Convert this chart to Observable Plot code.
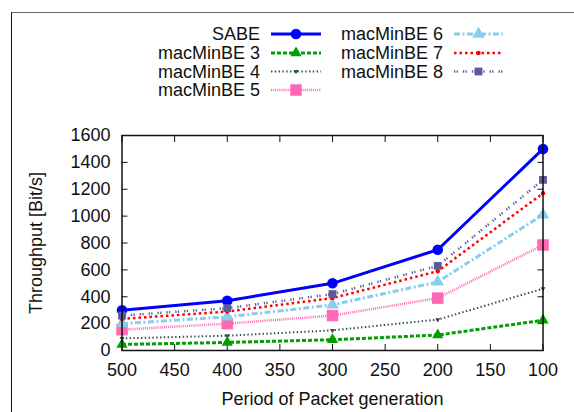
<!DOCTYPE html>
<html><head><meta charset="utf-8">
<script src="https://cdn.jsdelivr.net/npm/d3@7"></script>
<script src="https://cdn.jsdelivr.net/npm/@observablehq/plot@0.6"></script>
<style>
html,body{margin:0;padding:0;background:#fff;}
#wrap{position:relative;width:574px;height:412px;overflow:hidden;font-family:"Liberation Sans",Arial,Helvetica,sans-serif;background:#fff;}
#border{position:absolute;left:11px;top:12px;width:620px;height:520px;border-top:1.5px solid #666;border-left:1.5px solid #111;}
#wrap svg{position:absolute;left:0;top:0;}
</style></head><body><div id="wrap"><div id="border"></div></div>
<script>
// ---- data ----
const periods = [500, 400, 300, 200, 100];
const seriesNames = ["SABE", "macMinBE 3", "macMinBE 4", "macMinBE 5", "macMinBE 6", "macMinBE 7", "macMinBE 8"];
const sabe      = [300, 370, 500, 750, 1500];
const macMinBE3 = [45, 60, 80, 115, 225];
const macMinBE4 = [90, 110, 150, 230, 460];
const macMinBE5 = [155, 200, 260, 390, 785];
const macMinBE6 = [200, 250, 340, 510, 1010];
const macMinBE7 = [235, 290, 390, 590, 1170];
const macMinBE8 = [260, 315, 420, 630, 1270];
const xTicks = [500, 450, 400, 350, 300, 250, 200, 150, 100];
const yTicks = [0, 200, 400, 600, 800, 1000, 1200, 1400, 1600];
const xLabel = "Period of Packet generation";
const yLabel = "Throughput [Bit/s]";

const seriesValues = [sabe, macMinBE3, macMinBE4, macMinBE5, macMinBE6, macMinBE7, macMinBE8];

// ---- styles ----
const styles = [
  {color: "#0000ff", dash: null,            width: 3,   symbol: "circle",   r: 5.3, rotate: 0},
  {color: "#00a000", dash: "4 2",           width: 3,   symbol: "triangle", r: 4.2, rotate: 0},
  {color: "#2f4f4f", dash: "1.4 2.4",       width: 2,   symbol: "triangle", r: 1.8, rotate: 180},
  {color: "#ff69b4", dash: "1 1.1",         width: 2.5, symbol: "square",   r: 6.5, rotate: 0},
  {color: "#87ceeb", dash: "6 2.5 2 2.5",   width: 3,   symbol: "triangle", r: 4.7, rotate: 0},
  {color: "#ff0000", dash: "2.5 3",         width: 2.5, symbol: "circle",   r: 2.2, rotate: 0},
  {color: "#5a5a9c", dash: "1.3 1.3 1.3 5", width: 2.5, symbol: "square",   r: 4.4, rotate: 0}
];

const rows = seriesNames.flatMap((name, i) =>
  periods.map((p, j) => ({series: name, period: p, value: seriesValues[i][j]})));

const FONT = "'Liberation Sans', Arial, Helvetica, sans-serif";

const marks = [];
seriesNames.forEach((name, i) => {
  const s = styles[i];
  const data = rows.filter(d => d.series === name);
  const lineOpts = {x: "period", y: "value", stroke: s.color, strokeWidth: s.width,
    strokeLinejoin: "round", strokeLinecap: "butt"};
  if (s.dash) lineOpts.strokeDasharray = s.dash;
  marks.push(Plot.line(data, lineOpts));
  marks.push(Plot.dot(data, {x: "period", y: "value", symbol: s.symbol, r: s.r, fill: s.color,
    stroke: "none", rotate: s.rotate}));
});

const chart = Plot.plot({
  width: 574, height: 412,
  marginLeft: 121.5, marginRight: 31.5, marginTop: 135, marginBottom: 62,
  style: {fontFamily: FONT, fontSize: "18px", color: "#111", background: "transparent"},
  x: {domain: [500, 100]},
  y: {domain: [0, 1600]},
  marks: [
    Plot.axisX({anchor: "bottom", ticks: xTicks, tickSize: -6, tickPadding: 19, fontSize: 18,
      tickFormat: d3.format("d"),
      label: xLabel, labelAnchor: "center", labelArrow: "none", labelOffset: 54}),
    Plot.axisX({anchor: "top", ticks: xTicks, tickSize: -6, tickFormat: () => "", label: null}),
    Plot.axisY({anchor: "left", ticks: yTicks, tickSize: -6, tickPadding: 17.5, fontSize: 18,
      tickFormat: d3.format("d"),
      label: yLabel, labelAnchor: "center", labelArrow: "none", labelOffset: 93}),
    Plot.axisY({anchor: "right", ticks: yTicks, tickSize: -6, tickFormat: () => "", label: null}),
    ...marks,
    Plot.frame({stroke: "#111", strokeWidth: 1.5})
  ]
});
document.getElementById("wrap").appendChild(chart);

// ---- legend (overlay, built from the same series/style arrays) ----
const legendCols = [
  {textRight: 260, x0: 271, x1: 321},
  {textRight: 443, x0: 454, x1: 503}
];
const rowY = [34, 53, 71.5, 90];
const lg = d3.select("#wrap").append("svg").attr("width", 574).attr("height", 120)
  .style("font-family", FONT).style("font-size", "18px");
seriesNames.forEach((name, i) => {
  const col = legendCols[i < 4 ? 0 : 1];
  const y = rowY[i < 4 ? i : i - 4];
  const s = styles[i];
  lg.append("text").attr("x", col.textRight).attr("y", y).attr("dy", "0.35em")
    .attr("text-anchor", "end").attr("fill", "#111").text(name);
  lg.append("line").attr("x1", col.x0).attr("x2", col.x1).attr("y1", y).attr("y2", y)
    .attr("stroke", s.color).attr("stroke-width", s.width)
    .attr("stroke-dasharray", s.dash);
  const sym = {circle: d3.symbolCircle, triangle: d3.symbolTriangle, square: d3.symbolSquare}[s.symbol];
  lg.append("path").attr("d", d3.symbol(sym, Math.PI * s.r * s.r)())
    .attr("transform", `translate(${(col.x0 + col.x1) / 2},${y}) rotate(${s.rotate})`)
    .attr("fill", s.color);
});
</script>
</body></html>
